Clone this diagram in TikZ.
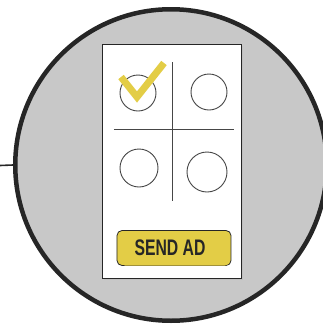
\documentclass[tikz,border=0pt]{standalone}
\usepackage{fontspec}
\setmainfont{Liberation Sans}
\newfontfamily\btnfont[FakeStretch=0.7]{Liberation Sans}
\definecolor{bggrey}{RGB}{200,200,200}
\definecolor{ringcol}{RGB}{38,38,38}
\definecolor{adyellow}{RGB}{227,205,70}
\definecolor{linegrey}{RGB}{70,70,70}
\begin{document}
\begin{tikzpicture}[x=1pt,y=-1pt,
  ring/.style={draw=ringcol,line width=4.5pt,fill=bggrey},
  phone/.style={draw=ringcol,line width=0.8pt,fill=white},
  option/.style={circle,draw=linegrey,line width=0.9pt,inner sep=0pt},
  divider/.style={draw=linegrey,line width=0.9pt},
  tick/.style={draw=adyellow,line width=7pt},
  button/.style={draw=ringcol,line width=0.8pt,fill=adyellow,rounded corners=5pt,minimum width=114pt,minimum height=35pt,inner sep=0pt}]
\useasboundingbox (0,0) rectangle (323,325);
\clip (0,0) rectangle (323,325);
\node[circle,ring,minimum size=311.5pt,inner sep=0pt] (disc) at (171,165) {};
\coordinate (lead) at (0,165.5);
\draw[line width=1.6pt,ringcol] (lead) -- (disc.west);
\fill[black!25] (104,46) rectangle (243,280);
\node[phone,minimum width=139pt,minimum height=234pt,inner sep=0pt] (screen) at (171.5,161) {};
\coordinate (vtop) at (172,62);
\coordinate (vbot) at (172,201);
\coordinate (hl) at (114,129);
\coordinate (hr) at (234,129);
\draw[divider] (vtop) -- (vbot);
\draw[divider] (hl) -- (hr);
\node[option,minimum size=36pt] (o1) at (138,93) {};
\node[option,minimum size=36pt] (o2) at (209,92) {};
\node[option,minimum size=38pt] (o3) at (139,168) {};
\node[option,minimum size=40pt] (o4) at (207,172) {};
\coordinate (t1) at (121,77);
\coordinate (t2) at (137,97);
\coordinate (t3) at (164,63);
\draw[tick] (t1) -- (t2) -- (t3);
\node[button] (send) at (174,248) {};
\node[fill=adyellow,rounded corners=5pt,minimum width=110pt,minimum height=32pt] at (175,249.5) {};
\node[font=\btnfont\bfseries\fontsize{22.5}{22.5}\selectfont,text=ringcol,inner sep=0pt] (label) at (170,248) {SEND AD};
\end{tikzpicture}
\end{document}
